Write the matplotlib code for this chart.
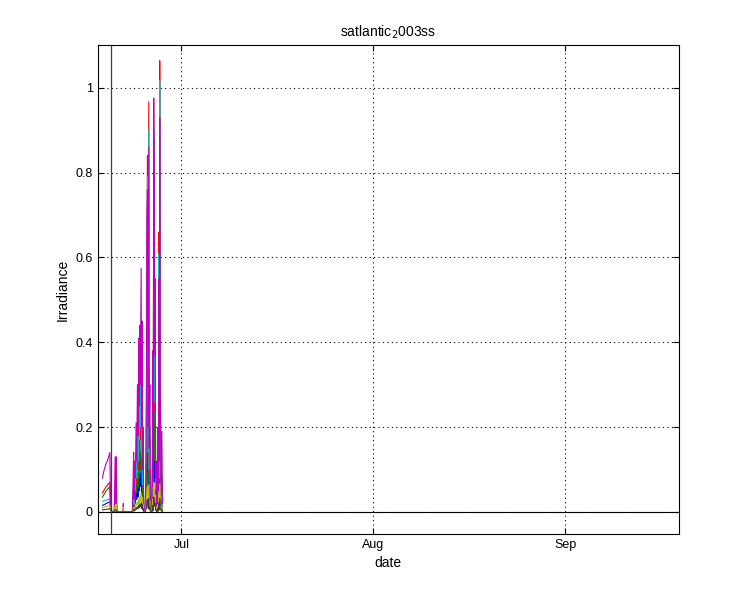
import matplotlib
matplotlib.use("Agg")
import matplotlib.pyplot as plt
import matplotlib.dates as mdates
import numpy as np
from datetime import datetime

plt.rcParams['font.family'] = ['Liberation Sans', 'DejaVu Sans']

# time of each sample, in days counted from 31 May 2003 (so 1 = Jun 1, 31 = Jul 1)
t_day = [18.25, 18.45, 18.65, 18.85, 19.05, 19.25, 19.45, 19.55, 19.75, 20.15,
         20.30, 20.40, 20.48, 20.58, 21.55, 21.62, 21.68, 23.08, 23.18, 23.28,
         23.36, 23.44, 23.56, 23.68, 23.78, 23.90, 24.00, 24.10, 24.18, 24.26,
         24.36, 24.50, 24.56, 24.63, 24.72, 24.80, 24.90, 24.98, 25.15, 25.25,
         25.33, 25.42, 25.52, 25.60, 25.73, 25.80, 25.90, 25.98, 26.06, 26.20,
         26.30, 26.38, 26.45, 26.53, 26.60, 26.68, 26.76, 26.84, 26.93, 27.02,
         27.12, 27.20, 27.28, 27.37, 27.44, 27.50, 27.57, 27.65, 27.74, 27.84,
         27.94]

# irradiance per channel (plotted in MATLAB colour order b, g, r, c, m, y, k)
ch_b = [0.015, 0.017, 0.018, 0.020, 0.021, 0.023, 0.025, 0.008, 0.000, 0.000,
        0.010, 0.003, 0.010, 0.000, 0.000, 0.002, 0.000, 0.000, 0.012, 0.030,
        0.006, 0.025, 0.020, 0.045, 0.030, 0.060, 0.035, 0.080, 0.050, 0.090,
        0.060, 0.110, 0.040, 0.090, 0.020, 0.040, 0.006, 0.000, 0.000, 0.020,
        0.055, 0.140, 0.160, 0.040, 0.180, 0.030, 0.060, 0.008, 0.000, 0.000,
        0.025, 0.070, 0.012, 0.190, 0.150, 0.070, 0.100, 0.018, 0.025, 0.000,
        0.000, 0.040, 0.010, 0.120, 0.025, 0.180, 0.060, 0.040, 0.008, 0.020,
        0.005]
ch_g = [0.035, 0.040, 0.045, 0.050, 0.053, 0.056, 0.060, 0.020, 0.000, 0.000,
        0.030, 0.005, 0.025, 0.000, 0.000, 0.003, 0.000, 0.000, 0.020, 0.045,
        0.010, 0.040, 0.030, 0.070, 0.045, 0.090, 0.060, 0.130, 0.080, 0.140,
        0.100, 0.180, 0.070, 0.150, 0.035, 0.065, 0.010, 0.000, 0.000, 0.030,
        0.090, 0.230, 0.285, 0.070, 0.300, 0.050, 0.100, 0.015, 0.000, 0.000,
        0.040, 0.120, 0.020, 0.310, 0.250, 0.120, 0.180, 0.030, 0.040, 0.000,
        0.000, 0.070, 0.018, 0.200, 0.040, 0.300, 0.100, 0.065, 0.015, 0.040,
        0.008]
ch_r = [0.045, 0.050, 0.055, 0.060, 0.063, 0.067, 0.070, 0.030, 0.000, 0.000,
        0.050, 0.010, 0.040, 0.000, 0.000, 0.005, 0.000, 0.000, 0.030, 0.060,
        0.015, 0.070, 0.045, 0.120, 0.070, 0.160, 0.100, 0.250, 0.140, 0.300,
        0.170, 0.350, 0.120, 0.280, 0.060, 0.110, 0.018, 0.000, 0.000, 0.045,
        0.150, 0.500, 0.840, 0.120, 0.967, 0.090, 0.180, 0.025, 0.000, 0.000,
        0.070, 0.230, 0.035, 0.880, 0.600, 0.240, 0.350, 0.050, 0.070, 0.000,
        0.000, 0.120, 0.030, 0.660, 0.070, 1.064, 0.400, 0.120, 0.025, 0.060,
        0.012]
ch_c = [0.025, 0.026, 0.027, 0.028, 0.029, 0.030, 0.031, 0.012, 0.000, 0.000,
        0.020, 0.005, 0.020, 0.000, 0.000, 0.003, 0.000, 0.000, 0.035, 0.070,
        0.018, 0.080, 0.050, 0.140, 0.080, 0.200, 0.120, 0.290, 0.170, 0.330,
        0.200, 0.380, 0.130, 0.300, 0.065, 0.130, 0.020, 0.000, 0.000, 0.050,
        0.170, 0.450, 0.790, 0.140, 0.900, 0.100, 0.200, 0.028, 0.000, 0.000,
        0.080, 0.260, 0.040, 0.900, 0.620, 0.260, 0.380, 0.055, 0.080, 0.000,
        0.000, 0.140, 0.035, 0.610, 0.080, 1.017, 0.250, 0.190, 0.028, 0.080,
        0.014]
ch_m = [0.080, 0.095, 0.105, 0.115, 0.120, 0.130, 0.140, 0.010, 0.000, 0.000,
        0.130, 0.020, 0.130, 0.000, 0.000, 0.020, 0.000, 0.000, 0.060, 0.140,
        0.030, 0.120, 0.080, 0.210, 0.120, 0.300, 0.180, 0.410, 0.250, 0.440,
        0.300, 0.575, 0.200, 0.450, 0.100, 0.200, 0.030, 0.000, 0.000, 0.080,
        0.250, 0.690, 0.760, 0.200, 0.860, 0.150, 0.300, 0.040, 0.000, 0.000,
        0.120, 0.380, 0.060, 0.976, 0.790, 0.370, 0.550, 0.080, 0.120, 0.000,
        0.000, 0.200, 0.050, 0.550, 0.120, 0.930, 0.300, 0.190, 0.040, 0.190,
        0.020]
ch_y = [0.010, 0.011, 0.012, 0.013, 0.014, 0.015, 0.016, 0.005, 0.000, 0.000,
        0.015, 0.003, 0.018, 0.000, 0.000, 0.010, 0.000, 0.000, 0.005, 0.010,
        0.003, 0.012, 0.008, 0.020, 0.015, 0.025, 0.018, 0.030, 0.020, 0.035,
        0.025, 0.045, 0.018, 0.035, 0.010, 0.018, 0.004, 0.000, 0.000, 0.010,
        0.025, 0.050, 0.060, 0.020, 0.065, 0.015, 0.025, 0.005, 0.000, 0.000,
        0.012, 0.030, 0.006, 0.070, 0.055, 0.030, 0.040, 0.008, 0.012, 0.000,
        0.000, 0.018, 0.005, 0.045, 0.012, 0.065, 0.025, 0.018, 0.005, 0.012,
        0.003]
ch_k = [0.005, 0.005, 0.006, 0.006, 0.007, 0.007, 0.008, 0.004, 0.000, 0.000,
        0.005, 0.002, 0.005, 0.000, 0.000, 0.001, 0.000, 0.000, 0.003, 0.006,
        0.002, 0.006, 0.004, 0.010, 0.006, 0.012, 0.008, 0.015, 0.010, 0.018,
        0.012, 0.022, 0.008, 0.018, 0.005, 0.008, 0.002, 0.000, 0.000, 0.004,
        0.010, 0.025, 0.030, 0.008, 0.032, 0.006, 0.012, 0.002, 0.000, 0.000,
        0.005, 0.015, 0.003, 0.035, 0.028, 0.014, 0.020, 0.004, 0.005, 0.000,
        0.000, 0.008, 0.002, 0.022, 0.005, 0.032, 0.012, 0.008, 0.002, 0.006,
        0.001]

channels = [ch_b, ch_g, ch_r, ch_c, ch_m, ch_y, ch_k]
colors = ['#0000ff', '#008000', '#ff0000', '#00bfbf', '#bf00bf', '#bfbf00', '#404040']

marker_day = 19.55          # vertical marker line
xlim_day = (17.45, 111.3)

base = mdates.date2num(datetime(2003, 5, 31))
t = base + np.array(t_day)

fig = plt.figure(figsize=(7.5, 6), dpi=100)
ax = fig.add_axes([0.13, 0.11, 0.775, 0.815])

for vals, col in zip(channels, colors):
    ax.plot(t, vals, color=col, lw=0.8)

ax.axhline(0, color='k', lw=0.8)
ax.axvline(base + marker_day, color='#404040', lw=0.9)

ax.set_xlim(base + xlim_day[0], base + xlim_day[1])
ax.set_ylim(-0.052, 1.101)
ax.set_yticks([0, 0.2, 0.4, 0.6, 0.8, 1.0])
ax.set_yticklabels(['0', '0.2', '0.4', '0.6', '0.8', '1'])
ax.xaxis.set_major_locator(mdates.MonthLocator())
ax.xaxis.set_major_formatter(mdates.DateFormatter('%b'))

ax.grid(True, linestyle=(0, (1, 3)), color='k', lw=0.8)
ax.tick_params(direction='in', top=True, right=True, length=4, labelsize=9)
for s in ax.spines.values():
    s.set_linewidth(0.8)

ax.set_xlabel('date', fontsize=10)
ax.set_ylabel('Irradiance', fontsize=10)
ax.set_title(r'satlantic$_2$003ss', fontsize=10)

fig.savefig('out.png', dpi=100)
